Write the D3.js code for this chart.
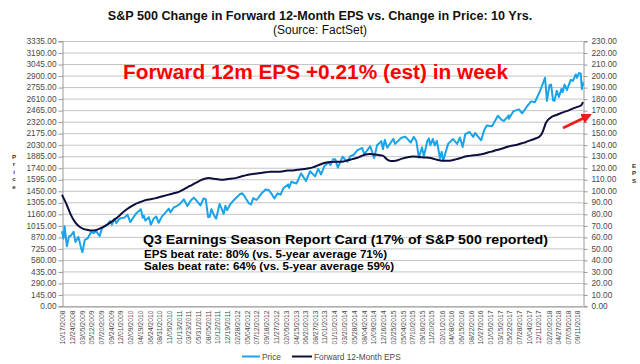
<!DOCTYPE html>
<html><head><meta charset="utf-8">
<script src="https://cdn.jsdelivr.net/npm/d3@7"></script>
<style>
body{margin:0;background:#fff;}
svg{display:block;font-family:Arial,"Liberation Sans",sans-serif;}
</style>
</head><body><svg id="c" width="640" height="364"></svg>
<script>
// ---------- DATA ----------
const priceDates = ["2008-10-17","2008-10-27","2008-11-04","2008-11-20","2008-12-05","2008-12-19","2009-01-06","2009-01-20","2009-02-09","2009-02-27","2009-03-09","2009-03-26","2009-04-15","2009-05-08","2009-05-29","2009-06-12","2009-07-08","2009-07-24","2009-08-14","2009-08-31","2009-09-18","2009-10-02","2009-10-19","2009-11-02","2009-11-20","2009-12-04","2009-12-31","2010-01-19","2010-02-08","2010-02-26","2010-03-19","2010-04-23","2010-05-07","2010-05-14","2010-05-25","2010-06-18","2010-07-02","2010-07-23","2010-08-09","2010-08-26","2010-09-17","2010-10-08","2010-11-05","2010-11-16","2010-12-10","2010-12-31","2011-01-21","2011-02-18","2011-03-16","2011-04-08","2011-04-29","2011-05-13","2011-06-15","2011-07-07","2011-07-22","2011-08-08","2011-08-19","2011-08-31","2011-09-22","2011-10-03","2011-10-27","2011-11-25","2011-12-07","2011-12-19","2012-01-13","2012-02-10","2012-03-16","2012-04-02","2012-04-20","2012-05-18","2012-06-04","2012-06-19","2012-07-12","2012-08-17","2012-09-14","2012-10-05","2012-10-26","2012-11-15","2012-12-07","2012-12-28","2013-01-18","2013-02-19","2013-02-25","2013-03-14","2013-04-18","2013-05-21","2013-06-24","2013-07-23","2013-08-27","2013-09-18","2013-10-08","2013-11-01","2013-11-27","2013-12-13","2013-12-31","2014-01-15","2014-02-03","2014-03-07","2014-04-11","2014-05-01","2014-05-23","2014-06-20","2014-07-24","2014-08-07","2014-09-18","2014-10-15","2014-11-05","2014-12-05","2014-12-16","2014-12-29","2015-01-15","2015-02-27","2015-03-11","2015-04-24","2015-05-21","2015-06-29","2015-07-20","2015-08-07","2015-08-25","2015-09-16","2015-09-29","2015-10-23","2015-11-03","2015-11-13","2015-12-01","2015-12-14","2015-12-29","2016-01-20","2016-02-01","2016-02-11","2016-03-17","2016-04-20","2016-05-19","2016-06-08","2016-06-27","2016-07-15","2016-08-15","2016-09-09","2016-09-22","2016-11-04","2016-11-25","2016-12-13","2017-01-19","2017-03-01","2017-03-27","2017-04-13","2017-05-16","2017-05-17","2017-06-19","2017-07-27","2017-08-18","2017-09-20","2017-10-20","2017-11-15","2017-12-18","2018-01-26","2018-02-08","2018-02-26","2018-03-09","2018-03-23","2018-04-02","2018-04-18","2018-05-03","2018-05-21","2018-05-29","2018-06-12","2018-06-28","2018-07-25","2018-08-10","2018-08-29","2018-09-07","2018-09-20","2018-10-03","2018-10-11","2018-10-17","2018-10-19"];
const price = [940,848,1005,752,876,887,935,805,870,735,677,833,852,929,919,946,879,979,1005,1021,1068,1025,1097,1042,1091,1106,1115,1150,1056,1104,1160,1217,1111,1136,1074,1117,1022,1102,1127,1047,1125,1166,1225,1178,1240,1258,1283,1343,1257,1328,1364,1338,1266,1353,1345,1119,1124,1219,1129,1099,1285,1159,1261,1206,1289,1343,1404,1419,1379,1295,1278,1357,1334,1418,1465,1461,1411,1353,1418,1402,1486,1530,1488,1563,1541,1669,1573,1696,1631,1725,1656,1762,1807,1775,1848,1848,1742,1878,1815,1884,1900,1962,1988,1910,2011,1862,2023,2075,1973,2091,1992,2104,2040,2117,2131,2057,2128,2077,1868,1996,1884,2075,2109,2023,2102,2021,2078,1859,1940,1829,2040,2102,2040,2119,2001,2162,2190,2128,2177,2085,2213,2271,2263,2395,2342,2329,2400,2357,2453,2475,2425,2508,2575,2564,2690,2873,2581,2780,2786,2588,2582,2708,2630,2733,2690,2786,2717,2846,2833,2914,2872,2931,2925,2728,2809,2768];

const epsDates = ["2008-10-17","2008-11-15","2008-12-15","2009-01-15","2009-02-15","2009-03-15","2009-04-15","2009-05-15","2009-06-15","2009-07-15","2009-08-15","2009-09-15","2009-10-15","2009-11-15","2009-12-15","2010-01-15","2010-02-15","2010-03-15","2010-04-15","2010-05-15","2010-06-15","2010-07-15","2010-08-15","2010-09-15","2010-10-15","2010-11-15","2010-12-15","2011-01-15","2011-02-15","2011-03-15","2011-04-15","2011-05-15","2011-06-15","2011-07-15","2011-08-15","2011-09-15","2011-10-15","2011-11-15","2011-12-15","2012-01-15","2012-02-15","2012-03-15","2012-04-15","2012-05-15","2012-06-15","2012-07-15","2012-08-15","2012-09-15","2012-10-15","2012-11-15","2012-12-15","2013-01-15","2013-02-15","2013-03-15","2013-04-15","2013-05-15","2013-06-15","2013-07-15","2013-08-15","2013-09-15","2013-10-15","2013-11-15","2013-12-15","2014-01-15","2014-02-15","2014-03-15","2014-04-15","2014-05-15","2014-06-15","2014-07-15","2014-08-15","2014-09-15","2014-10-15","2014-11-15","2014-12-15","2015-01-15","2015-02-15","2015-03-15","2015-04-15","2015-05-15","2015-06-15","2015-07-15","2015-08-15","2015-09-15","2015-10-15","2015-11-15","2015-12-15","2016-01-15","2016-02-15","2016-03-15","2016-04-15","2016-05-15","2016-06-15","2016-07-15","2016-08-15","2016-09-15","2016-10-15","2016-11-15","2016-12-15","2017-01-15","2017-02-15","2017-03-15","2017-04-15","2017-05-15","2017-06-15","2017-07-15","2017-08-15","2017-09-15","2017-10-15","2017-11-15","2017-12-15","2018-01-01","2018-01-15","2018-02-01","2018-02-15","2018-03-15","2018-04-15","2018-05-15","2018-06-15","2018-07-15","2018-08-15","2018-09-15","2018-10-05","2018-10-19"];
const eps = [96.5,89,80,73,69,67,66,65.5,66,67.5,69.5,72,74.5,77.5,81,84,86.5,88.5,90,91.5,92.5,93,94,95,96,97,98,99,101,103,105,107,109,110.5,111,110.5,110,109.5,110,110.5,111,112,113,114,114.5,115,115.5,116,116.5,116.5,116.5,117,117.5,117.5,118,118.5,119,119.5,120.5,122,123.5,124.5,125,125.3,125.3,125.5,126.5,127.5,128.5,130,131.5,132,131.5,131,130.5,127,125.8,126,127.3,128.5,129.3,129.7,129.5,129,128.9,128.5,127.5,126.5,126,126,126.5,127.5,128.5,129.7,130.3,130.8,131.2,132,133,134,135.2,136,137.2,138.5,139.3,140,141.2,142.4,143.8,145.2,146.8,149,153,159,161.5,164.3,165.8,167.3,168.7,170,171.7,173,174,177];

const xTickLabels = ["10/17/2008","12/24/2008","03/05/2009","05/12/2009","07/20/2009","09/24/2009","12/01/2009","02/09/2010","04/19/2010","06/24/2010","08/31/2010","11/05/2010","01/13/2011","03/23/2011","05/31/2011","08/05/2011","10/12/2011","12/19/2011","02/28/2012","05/04/2012","07/12/2012","09/18/2012","11/27/2012","02/05/2013","04/15/2013","06/20/2013","08/27/2013","11/01/2013","01/10/2014","03/20/2014","05/28/2014","08/04/2014","10/09/2014","12/16/2014","02/25/2015","05/04/2015","07/10/2015","09/16/2015","11/20/2015","02/01/2016","04/08/2016","06/15/2016","08/22/2016","10/27/2016","01/05/2017","03/15/2017","05/22/2017","07/28/2017","10/04/2017","12/11/2017","02/20/2018","04/27/2018","07/05/2018","09/11/2018"];
const leftTicks = [0,145,290,435,580,725,870,1015,1160,1305,1450,1595,1740,1885,2030,2175,2320,2465,2610,2755,2900,3045,3190,3335];
const rightTicks = [0,10,20,30,40,50,60,70,80,90,100,110,120,130,140,150,160,170,180,190,200,210,220,230];

// ---------- LAYOUT ----------
const X0 = 62, X1 = 583, Y0 = 41, Y1 = 306;
const svg = d3.select("#c");
const parseISO = d3.timeParse("%Y-%m-%d");
const parseLbl = d3.timeParse("%m/%d/%Y");

const x = d3.scaleTime()
  .domain([parseISO(priceDates[0]), parseISO(priceDates[priceDates.length-1])])
  .range([X0, X1]);
const yL = d3.scaleLinear().domain([0, 3335]).range([Y1, Y0]);
const yR = d3.scaleLinear().domain([0, 230]).range([Y1, Y0]);

// gridlines
svg.append("g").selectAll("line").data(leftTicks).join("line")
  .attr("x1", X0).attr("x2", X1)
  .attr("y1", d => yL(d) + 0.5).attr("y2", d => yL(d) + 0.5)
  .attr("stroke", "#c4c4c4").attr("stroke-width", 1);

// left axis
const gL = svg.append("g").attr("transform", `translate(${X0 + 0.5},0)`)
  .call(d3.axisLeft(yL).tickValues(leftTicks).tickFormat(d3.format(".2f")).tickSize(4).tickPadding(2));
gL.select(".domain").attr("stroke", "#999");
gL.selectAll(".tick line").attr("stroke", "#999").attr("transform", "translate(0,0.5)");
gL.selectAll("text").attr("fill", "#4a4a4a").style("font-size", "8.3px").attr("font-family", "Arial, 'Liberation Sans', sans-serif");

// right axis
const gR = svg.append("g").attr("transform", `translate(${X1 + 0.5},0)`)
  .call(d3.axisRight(yR).tickValues(rightTicks).tickFormat(d3.format(".2f")).tickSize(4).tickPadding(4));
gR.select(".domain").attr("stroke", "#999");
gR.selectAll(".tick line").attr("stroke", "#999").attr("transform", "translate(0,0.5)");
gR.selectAll("text").attr("fill", "#4a4a4a").style("font-size", "8.3px").attr("font-family", "Arial, 'Liberation Sans', sans-serif");

// bottom axis
const gB = svg.append("g").attr("transform", `translate(0,${Y1 + 0.5})`)
  .call(d3.axisBottom(x).tickValues(xTickLabels.map(parseLbl)).tickFormat(d3.timeFormat("%m/%d/%Y")).tickSize(0));
gB.select(".domain").attr("stroke", "#999");
gB.selectAll("text")
  .attr("transform", "rotate(-90)")
  .attr("text-anchor", "end")
  .attr("x", -4).attr("y", 0).attr("dy", "0.35em")
  .attr("fill", "#4a4a4a").style("font-size", "6.8px")
  .attr("font-family", "Arial, 'Liberation Sans', sans-serif");

// lines
const priceLine = d3.line().x((d, i) => x(parseISO(priceDates[i]))).y(d => yL(d));
const epsLine = d3.line().x((d, i) => x(parseISO(epsDates[i]))).y(d => yR(d)).curve(d3.curveMonotoneX);

svg.append("path").datum(price).attr("d", priceLine)
  .attr("fill", "none").attr("stroke", "#1AA3E8").attr("stroke-width", 2).attr("stroke-linejoin", "round");
svg.append("path").datum(eps).attr("d", epsLine)
  .attr("fill", "none").attr("stroke", "#0E0E3E").attr("stroke-width", 2).attr("stroke-linejoin", "round");

// axis titles (stacked letters, separate texts)
function stacked(txt, cx, cy0, step) {
  svg.append("g").selectAll("text").data(txt.split("")).join("text")
    .attr("x", cx).attr("y", (d, i) => cy0 + i * step)
    .attr("text-anchor", "middle")
    .attr("font-size", 6.2).attr("font-weight", "bold").attr("fill", "#333")
    .text(d => d);
}
stacked("Price", 14, 159, 7.4);
stacked("EPS", 634, 168, 7.4);

// title
svg.append("text").attr("x", 320).attr("y", 20).attr("text-anchor", "middle")
  .attr("font-size", 12.6).attr("font-weight", "bold").attr("fill", "#111")
  .text("S&P 500 Change in Forward 12-Month EPS vs. Change in Price: 10 Yrs.");
svg.append("text").attr("x", 320).attr("y", 34).attr("text-anchor", "middle")
  .attr("font-size", 12).attr("fill", "#111")
  .text("(Source: FactSet)");

// red annotation
svg.append("text").attr("x", 123).attr("y", 78.5)
  .attr("font-size", 21).attr("font-weight", "bold").attr("fill", "#FF0000")
  .attr("textLength", 385).attr("lengthAdjust", "spacingAndGlyphs")
  .text("Forward 12m EPS +0.21% (est) in week");

// report card text
svg.append("text").attr("x", 143).attr("y", 243.5)
  .attr("font-size", 13).attr("font-weight", "bold").attr("fill", "#000")
  .attr("textLength", 405).attr("lengthAdjust", "spacingAndGlyphs")
  .text("Q3 Earnings Season Report Card (17% of S&P 500 reported)");
svg.append("text").attr("x", 144).attr("y", 257.5)
  .attr("font-size", 10.5).attr("font-weight", "bold").attr("fill", "#000")
  .attr("textLength", 243).attr("lengthAdjust", "spacingAndGlyphs")
  .text("EPS beat rate: 80% (vs. 5-year average 71%)");
svg.append("text").attr("x", 144).attr("y", 269.5)
  .attr("font-size", 10.5).attr("font-weight", "bold").attr("fill", "#000")
  .attr("textLength", 250).attr("lengthAdjust", "spacingAndGlyphs")
  .text("Sales beat rate: 64% (vs. 5-year average 59%)");

// red arrow (annotation pointing at latest EPS)
const defs = svg.append("defs");
defs.append("marker").attr("id", "ah").attr("viewBox", "0 0 10 10")
  .attr("refX", 8).attr("refY", 5).attr("markerWidth", 4).attr("markerHeight", 4)
  .attr("orient", "auto")
  .append("path").attr("d", "M0,0 L10,5 L0,10 Z").attr("fill", "#EE1C1C");
svg.append("line").attr("x1", 563).attr("y1", 128).attr("x2", 590).attr("y2", 115)
  .attr("stroke", "#EE1C1C").attr("stroke-width", 2.6).attr("marker-end", "url(#ah)");

// legend
const lg = svg.append("g");
lg.append("line").attr("x1", 242).attr("x2", 260).attr("y1", 356.5).attr("y2", 356.5)
  .attr("stroke", "#1AA3E8").attr("stroke-width", 2);
lg.append("text").attr("x", 262).attr("y", 359.5).attr("font-size", 8.3).attr("fill", "#4a4a4a").text("Price");
lg.append("line").attr("x1", 292).attr("x2", 312).attr("y1", 356.5).attr("y2", 356.5)
  .attr("stroke", "#0E0E3E").attr("stroke-width", 2);
lg.append("text").attr("x", 314).attr("y", 359.5).attr("font-size", 8.3).attr("fill", "#4a4a4a").text("Forward 12-Month EPS");
</script>
</body></html>
